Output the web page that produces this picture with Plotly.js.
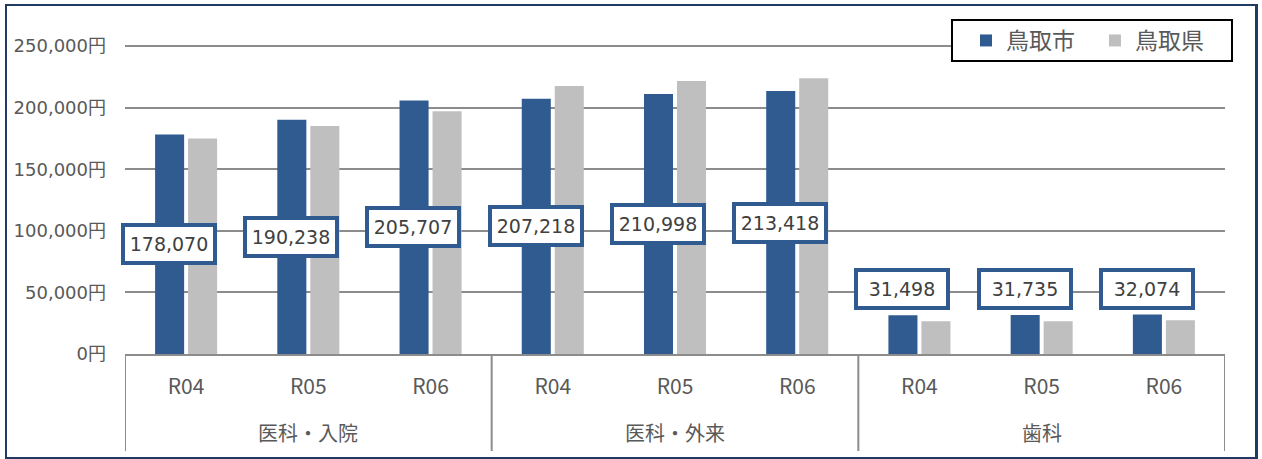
<!DOCTYPE html>
<html>
<head>
<meta charset="utf-8">
<script src="https://cdn.plot.ly/plotly-3.0.1.min.js"></script>
<style>
  html, body { margin: 0; padding: 0; background: #fff; }
  #wrap { position: relative; width: 1262px; height: 459px; overflow: hidden; }
  #frame { position: absolute; left: 5px; top: 4px; width: 1248px; height: 451px;
           border: 2px solid #203A64; border-right-width: 3px; pointer-events: none; z-index: 5; }
  #chart { position: absolute; left: 0; top: 0; width: 1262px; height: 459px; }
</style>
</head>
<body>
<div id="wrap">
  <div id="chart"></div>
  <div id="frame"></div>
</div>
<script>
// ---- data ----
const groups = ['医科・入院', '医科・外来', '歯科'];
const years = ['R04', 'R05', 'R06'];
const seriesNames = ['鳥取市', '鳥取県'];
const cityValues = [178070, 190238, 205707, 207218, 210998, 213418, 31498, 31735, 32074];
const prefValues = [175000, 185000, 197000, 217500, 221600, 223800, 26500, 26500, 27300];
const yTickVals = [0, 50000, 100000, 150000, 200000, 250000];

// ---- styling / positions (not data) ----
const BLUE = '#2F5B91';
const GRAY = '#BFBFBF';
const AXIS = '#8C8C8C';
const NUMFONT = '"DejaVu Sans", "Noto Sans CJK JP", sans-serif';
const JPFONT = '"Noto Sans CJK JP", "DejaVu Sans", sans-serif';
const PLOT_LEFT = 125, PLOT_W = 1100, PLOT_TOP = 38, PLOT_H = 316;  // px
const pxY = p => -(p - (PLOT_TOP + PLOT_H)) / PLOT_H;   // pixel row -> paper y
const pxX = p => (p - PLOT_LEFT) / PLOT_W;               // pixel col -> paper x
// label vertical positions: centred on bar for 医科, manually raised for 歯科
const labelY = cityValues.map((v, i) => i < 6 ? v / 2 : 53000);

// categories laid out along the x axis (index per year within group)
const xYear = [], xIdx = [];
groups.forEach(g => years.forEach(y => { xYear.push(y); xIdx.push(xIdx.length); }));

const traces = [
  { type: 'bar', name: seriesNames[0], x: xIdx, y: cityValues,
    marker: { color: BLUE }, hoverinfo: 'skip' },
  { type: 'bar', name: seriesNames[1], x: xIdx, y: prefValues,
    marker: { color: GRAY }, hoverinfo: 'skip' }
];

const annotations = cityValues.map((v, i) => ({
  xref: 'x', yref: 'y', x: xIdx[i] - 0.14, y: labelY[i],
  text: v.toLocaleString('en-US'), showarrow: false,
  font: { family: NUMFONT, size: 19, color: '#404040' },
  bgcolor: '#ffffff', bordercolor: BLUE, borderwidth: 4, borderpad: 4,
  width: 80, height: 26, xanchor: 'center', yanchor: 'middle'
}));
// group labels (second category row)
groups.forEach((g, gi) => {
  annotations.push({
    xref: 'x', yref: 'paper', x: gi * years.length + (years.length - 1) / 2,
    y: pxY(432), text: g, showarrow: false,
    font: { family: JPFONT, size: 20, color: '#595959' },
    xanchor: 'center', yanchor: 'middle'
  });
});

// dividers between groups (and at both ends)
const shapes = [];
for (let gi = 0; gi <= groups.length; gi++) {
  const xd = gi * years.length - 0.5;
  shapes.push({ type: 'line', xref: 'x', yref: 'paper', x0: xd, x1: xd,
    y0: 0, y1: pxY(451), line: { color: AXIS, width: 2 } });
}
// legend frame
shapes.push({ type: 'rect', xref: 'paper', yref: 'paper', layer: 'above',
  x0: pxX(952), x1: pxX(1232), y0: pxY(61), y1: pxY(20),
  fillcolor: '#ffffff', line: { color: '#000000', width: 2 } });

const layout = {
  width: 1262, height: 459,
  margin: { l: PLOT_LEFT, r: 1262 - PLOT_LEFT - PLOT_W, t: PLOT_TOP, b: 459 - PLOT_TOP - PLOT_H },
  paper_bgcolor: '#ffffff', plot_bgcolor: '#ffffff',
  barmode: 'group', bargap: 0.46, bargroupgap: 0.12,
  font: { family: JPFONT, color: '#595959' },
  showlegend: true,
  legend: {
    orientation: 'h', x: pxX(1095), xanchor: 'center', y: pxY(40.5), yanchor: 'middle',
    bgcolor: 'rgba(0,0,0,0)', borderwidth: 0,
    font: { family: JPFONT, size: 23, color: '#595959' },
    traceorder: 'normal', itemwidth: 30, entrywidth: 84
  },
  xaxis: {
    type: 'linear', range: [-0.5, 8.5],
    tickmode: 'array', tickvals: xIdx, ticktext: xYear,
    showgrid: false, zeroline: false,
    showline: true, linecolor: AXIS, linewidth: 2,
    tickfont: { family: JPFONT, size: 21, color: '#595959' },
    ticks: '', ticklabelstandoff: 13, fixedrange: true
  },
  yaxis: {
    range: [0, 256500], tickvals: yTickVals,
    ticktext: yTickVals.map(v => v.toLocaleString('en-US') + '円'),
    showgrid: true, gridcolor: AXIS, gridwidth: 2,
    zeroline: false, showline: false, ticks: '',
    ticklabelstandoff: 18,
    tickfont: { family: NUMFONT, size: 18, color: '#595959' },
    fixedrange: true
  },
  shapes: shapes,
  annotations: annotations
};

Plotly.newPlot('chart', traces, layout, { displayModeBar: false, staticPlot: true });
</script>
</body>
</html>
